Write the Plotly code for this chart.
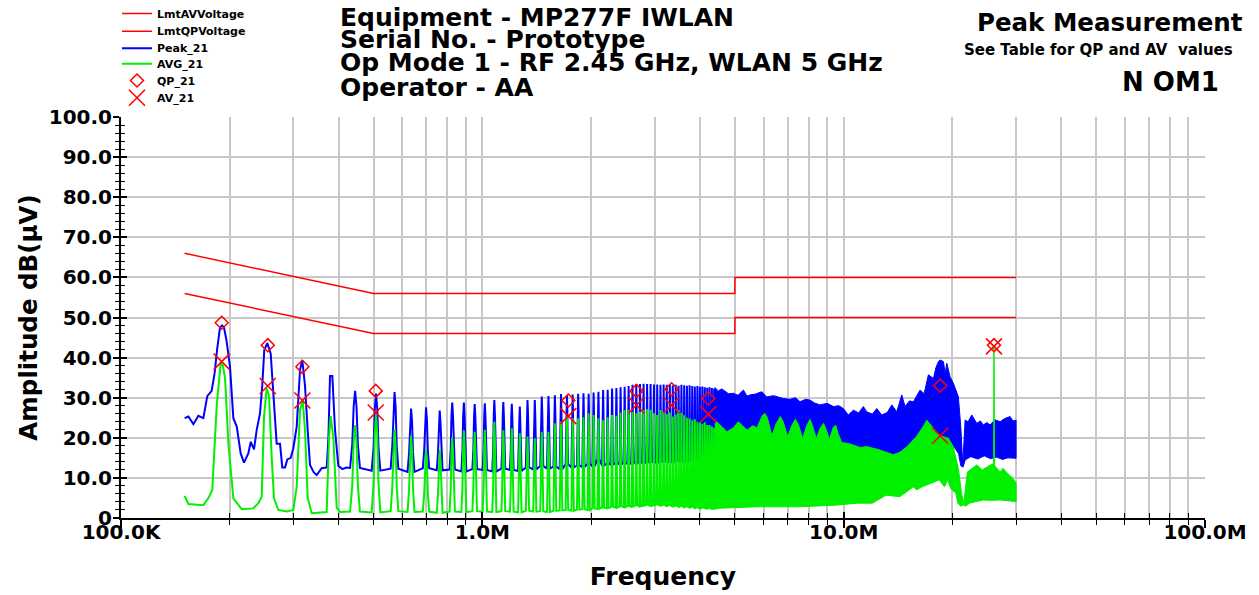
import plotly.graph_objects as go

# ---------------- DATA ----------------
# CISPR limit lines (frequency in MHz, level in dB(uV))
lmt_freq_mhz = [0.15, 0.5, 5.0, 5.0, 30.0]
lmt_qp_db = [66.0, 56.0, 56.0, 60.0, 60.0]
lmt_av_db = [56.0, 46.0, 46.0, 50.0, 50.0]

# Peak_21, low-frequency section (kHz, dB)
peak_low_khz = [150, 153.6, 158.6, 163.7, 169.0, 173.3, 178.2, 181.5, 184.5, 187.9,
                190.5, 192.8, 196.1, 200.3, 204.6, 209.1, 214.4, 219.0, 225.1, 228.6,
                233.4, 237.4, 242.5, 246.0, 249.2, 254.1, 259.6, 264.0, 266.9, 269.7,
                275.5, 279.5, 284.4, 288.6, 294.9, 299.9, 306.4, 310.0, 312.9, 317.5,
                323.0, 328.6, 333.5, 341.0, 348.0, 359.3, 370.9, 375.0, 378.8, 384.5,
                391.1, 399.5, 410.0, 420.0]
peak_low_db = [24.9, 25.3, 23.4, 25.5, 24.9, 30.4, 31.7, 36.0, 42.0, 47.5,
               48.0, 47.5, 44.0, 37.7, 24.9, 22.8, 16.1, 13.8, 16.1, 19.0,
               17.1, 21.9, 26.1, 33.0, 41.9, 43.6, 41.0, 30.0, 26.0, 18.5,
               18.5, 12.6, 12.6, 14.6, 15.0, 17.4, 22.8, 30.0, 36.9, 39.4,
               33.0, 21.9, 13.2, 11.5, 10.7, 12.4, 12.6, 20.0, 35.4, 35.4,
               22.0, 13.0, 12.2, 12.6]

# AVG_21, low-frequency section (kHz, dB)
avg_low_khz = [150, 153.6, 169.0, 174.4, 178.9, 182.0, 184.0, 188.8, 191.5, 194.1,
               198.2, 204.6, 215.8, 232.3, 239.9, 245.1, 248.8, 253.1, 256.8, 261.3,
               265.1, 272.5, 287.5, 299.9, 306.4, 312.9, 318.3, 323.0, 328.6, 337.2,
               370.9, 376.4, 380.4, 387.0, 395.4, 403.9, 420.0]
avg_low_db = [5.5, 3.5, 3.2, 4.9, 7.0, 18.0, 28.0, 38.6, 38.0, 34.8,
              18.7, 4.9, 2.2, 2.4, 3.7, 5.3, 25.3, 32.3, 30.5, 15.0,
              4.9, 2.0, 1.6, 2.0, 7.8, 26.9, 29.4, 22.0, 5.0, 1.2,
              1.5, 20.0, 25.4, 20.0, 2.5, 1.5, 1.6]

# Resolved comb harmonics (kHz)
harm_khz = [444.5, 508.0, 571.5, 635.0, 698.5, 762.0, 825.5, 889.0, 952.5, 1016.0,
            1079.5, 1143.0, 1206.5, 1270.0, 1333.5, 1397.0, 1460.5, 1524.0, 1587.5, 1651.0,
            1714.5, 1778.0, 1841.5, 1905.0, 1968.5, 2032.0, 2095.5, 2159.0, 2222.5, 2286.0,
            2349.5, 2413.0, 2476.5, 2540.0, 2603.5, 2667.0, 2730.5, 2794.0, 2857.5, 2921.0,
            2984.5, 3048.0, 3111.5, 3175.0, 3238.5, 3302.0, 3365.5, 3429.0, 3492.5, 3556.0,
            3619.5, 3683.0, 3746.5, 3810.0, 3873.5, 3937.0, 4000.5, 4064.0, 4127.5, 4191.0,
            4254.5, 4318.0, 4381.5, 4445.0]
peak_harm_top_db = [31.7, 31.0, 31.4, 27.3, 27.6, 26.8, 28.8, 28.8, 28.4, 28.6,
                    29.4, 28.9, 28.5, 27.8, 29.4, 29.4, 30.3, 30.4, 30.6, 30.9,
                    30.6, 30.8, 31.0, 31.1, 31.0, 31.3, 31.5, 31.9, 32.0, 32.3,
                    32.4, 32.6, 32.7, 32.9, 33.2, 33.4, 33.4, 33.5, 33.4, 33.4,
                    33.3, 33.3, 33.2, 33.3, 33.2, 33.3, 33.1, 33.2, 33.0, 33.2,
                    33.1, 33.0, 33.1, 32.9, 32.8, 32.9, 32.7, 32.8, 32.6, 32.5,
                    32.6, 32.4, 32.3, 32.2]
peak_harm_floor_db = [12.5, 11.8, 12.3, 11.5, 12.4, 11.9, 12.1, 11.6, 12.2, 12.0,
                      11.6, 12.3, 12.0, 11.7, 12.6, 12.1, 13.0, 12.3, 12.8, 12.2,
                      13.4, 12.6, 13.1, 12.7, 13.5, 12.9, 14.6, 13.0, 13.6, 13.2,
                      13.8, 13.3, 13.9, 13.4, 14.0, 13.5, 14.1, 13.6, 14.0, 13.8,
                      14.2, 13.7, 14.1, 13.9, 14.3, 13.8, 14.2, 14.0, 14.4, 13.9,
                      14.3, 14.0, 14.5, 14.1, 14.4, 14.2, 14.6, 14.1, 14.5, 14.3,
                      14.6, 14.2, 14.5, 14.4]
avg_harm_top_db = [23.2, 25.7, 22.2, 20.5, 17.0, 17.1, 20.1, 21.8, 21.5, 22.0,
                   24.0, 21.9, 22.4, 21.1, 20.3, 19.9, 21.5, 21.5, 23.6, 24.0,
                   25.3, 24.9, 24.9, 25.1, 26.1, 25.7, 24.9, 24.4, 25.1, 25.7,
                   25.5, 26.3, 26.9, 26.9, 26.5, 26.1, 26.5, 26.9, 27.1, 26.9,
                   26.1, 25.7, 26.9, 26.5, 25.9, 26.3, 25.3, 25.8, 26.9, 26.2,
                   25.6, 25.0, 24.8, 24.4, 24.6, 24.0, 23.8, 23.5, 23.9, 23.2,
                   23.2, 22.8, 22.5, 22.2]
avg_harm_floor_db = [1.6, 1.4, 1.7, 1.5, 1.6, 1.3, 1.6, 1.5, 1.7, 1.6,
                     1.5, 1.7, 1.6, 1.4, 1.8, 1.6, 1.7, 1.5, 1.8, 1.9,
                     2.0, 1.8, 2.1, 2.2, 2.0, 2.4, 2.3, 2.6, 2.4, 2.8,
                     2.6, 2.9, 2.7, 3.0, 2.8, 3.2, 2.9, 3.1, 3.3, 3.0,
                     3.2, 3.4, 3.1, 3.3, 3.0, 3.2, 2.9, 3.1, 2.8, 3.0,
                     2.7, 2.9, 2.6, 2.8, 2.5, 2.7, 2.4, 2.6, 2.5, 2.4,
                     2.5, 2.3, 2.4, 2.4]

# Dense (unresolved) part of the spectrum: envelopes (MHz, dB)
peak_band_top_mhz = [4.40, 4.46, 4.60, 4.80, 4.95, 5.10, 5.28, 5.40, 5.51, 5.70,
                     5.93, 6.12, 6.40, 6.81, 7.11, 7.35, 7.57, 7.85, 8.07, 8.30,
                     8.60, 9.00, 9.37, 9.70, 9.98, 10.30, 10.64, 11.00, 11.34, 11.58,
                     12.00, 12.35, 12.74, 13.20, 13.59, 14.03, 14.48, 14.79, 15.20, 15.60,
                     16.27, 16.70, 17.16, 17.72, 18.00, 18.29, 18.50, 18.88, 19.10, 19.29,
                     19.70, 20.12, 20.77, 21.09, 21.36, 21.68, 22.10, 22.62, 23.35, 23.90,
                     24.36, 24.90, 25.42, 26.20, 27.10, 27.90, 28.88, 29.40, 30.0]
peak_band_top_db = [32.6, 31.5, 32.2, 31.0, 31.1, 30.6, 31.9, 30.4, 30.7, 30.9,
                    31.5, 30.2, 30.5, 29.8, 29.6, 30.0, 29.0, 29.6, 29.4, 28.7,
                    28.2, 28.6, 27.8, 28.0, 27.3, 25.7, 26.9, 26.2, 27.8, 26.5,
                    25.9, 27.3, 25.7, 26.3, 28.2, 26.5, 30.7, 27.8, 29.2, 29.0,
                    31.9, 31.0, 35.7, 34.8, 37.5, 39.0, 39.4, 39.0, 36.0, 38.6,
                    35.2, 33.6, 30.2, 22.8, 13.2, 24.4, 24.0, 25.7, 23.6, 24.2,
                    23.2, 23.8, 23.2, 24.5, 24.0, 24.8, 25.3, 24.2, 24.4]
peak_band_bot_mhz = [4.40, 6.0, 8.0, 10.0, 12.0, 13.0, 13.7, 14.3, 14.98, 15.6,
                     16.5, 17.5, 18.5, 19.5, 20.3, 20.8, 21.1, 21.4, 21.7, 22.5,
                     23.5, 24.5, 25.5, 26.5, 27.5, 28.5, 30.0]
peak_band_bot_db = [13.5, 14.0, 14.5, 14.5, 15.5, 15.5, 15.7, 16.5, 17.8, 18.6,
                    19.0, 19.5, 18.5, 18.5, 17.5, 16.0, 13.0, 12.7, 14.5, 15.3,
                    14.7, 15.5, 14.8, 15.2, 14.6, 15.0, 14.9]

avg_band_top_mhz = [4.40, 4.45, 4.60, 4.75, 4.95, 5.11, 5.25, 5.40, 5.60, 5.76,
                    5.95, 6.05, 6.15, 6.33, 6.50, 6.68, 6.80, 7.00, 7.18, 7.35,
                    7.50, 7.70, 7.90, 8.07, 8.20, 8.40, 8.60, 8.80, 8.95, 9.13,
                    9.35, 9.50, 9.65, 9.88, 10.3, 11.1, 11.58, 12.55, 13.7, 14.3,
                    14.98, 15.9, 16.6, 16.98, 17.72, 18.5, 19.5, 20.1, 20.8, 21.2,
                    21.5, 22.0, 23.35, 24.2, 25.0, 25.95, 26.00, 26.06, 26.12, 26.17,
                    27.1, 27.6, 28.5, 29.4, 30.0]
avg_band_top_db = [23.5, 24.0, 22.8, 21.5, 22.5, 24.0, 23.0, 21.9, 23.0, 22.5,
                   25.5, 26.1, 25.0, 20.5, 23.5, 25.3, 24.0, 20.3, 23.0, 24.6,
                   23.2, 19.8, 23.0, 24.6, 23.0, 19.8, 22.3, 23.6, 22.0, 19.6,
                   22.5, 23.2, 21.0, 18.8, 18.6, 17.6, 17.8, 17.0, 15.8, 16.3,
                   17.8, 20.3, 22.8, 24.4, 22.4, 20.5, 19.9, 17.8, 12.0, 6.0,
                   3.7, 11.5, 13.2, 12.0, 12.8, 13.6, 13.6, 42.5, 13.6, 13.0,
                   11.5, 12.4, 11.0, 9.9, 8.6]
avg_band_bot_mhz = [4.40, 5.76, 7.57, 9.5, 10.9, 12.0, 13.1, 14.3, 15.6, 15.9,
                    16.5, 17.4, 18.4, 19.0, 19.4, 19.8, 20.45, 20.7, 21.1, 21.5,
                    21.7, 22.3, 23.5, 24.36, 25.5, 27.1, 28.5, 30.0]
avg_band_bot_db = [2.4, 2.8, 2.8, 3.2, 3.7, 3.7, 5.7, 5.3, 7.8, 7.0,
                   7.8, 8.6, 9.5, 7.8, 9.5, 7.3, 6.2, 3.7, 2.9, 3.3,
                   2.9, 3.7, 4.2, 4.5, 4.4, 4.5, 4.3, 4.1]

# Final measurement points (MHz, dB)
qp_freq_mhz = [0.190, 0.2548, 0.3177, 0.507, 1.73, 2.67, 3.34, 4.22, 18.5, 26.06]
qp_db = [48.7, 43.1, 37.7, 31.7, 29.3, 31.7, 32.1, 29.8, 33.0, 43.1]
av_freq_mhz = [0.190, 0.2548, 0.3177, 0.507, 1.73, 2.67, 3.34, 4.22, 18.5, 26.06]
av_db = [39.0, 32.9, 29.3, 26.3, 25.4, 28.1, 28.1, 25.9, 20.5, 42.8]

# Axis labels
x_tick_hz = [1e5, 1e6, 1e7, 1e8]
x_tick_text = ["100.0K", "1.0M", "10.0M", "100.0M"]
y_tick_vals = [0, 10, 20, 30, 40, 50, 60, 70, 80, 90, 100]
y_tick_text = ["0", "10.0", "20.0", "30.0", "40.0", "50.0", "60.0", "70.0", "80.0", "90.0", "100.0"]

# ---------------- STYLE ----------------
FONT = "DejaVu Sans"
BLUE = "#0000FF"
GREEN = "#00F000"
RED = "#FF0000"
GRID = "#C8C8C8"
# shape of a single spectral line drawn by the receiver (offset kHz, fraction of height)
LINE_SHAPE_OFF = [-14, -8, -4, 0, 4, 8, 14]
LINE_SHAPE_FRAC = [0.0, 0.3, 0.8, 1.0, 0.8, 0.3, 0.0]

W, H = 1259, 595
ML, MR, MT, MB = 121, 54, 117, 77
PW, PH = W - ML - MR, H - MT - MB


def px_x(px):
    return (px - ML) / PW


def px_y(py):
    return (H - MB - py) / PH


def comb(low_khz, low_db, tops, floors):
    xs = [f * 1e3 for f in low_khz]
    ys = list(low_db)
    for f, top, fl in zip(harm_khz, tops, floors):
        for off, frac in zip(LINE_SHAPE_OFF, LINE_SHAPE_FRAC):
            xs.append((f + off) * 1e3)
            ys.append(fl + frac * (top - fl))
    return xs, ys


def band(top_f, top_v, bot_f, bot_v):
    xs = [f * 1e6 for f in top_f] + [f * 1e6 for f in reversed(bot_f)]
    ys = list(top_v) + list(reversed(bot_v))
    return xs, ys


fig = go.Figure()

px_, py_ = comb(peak_low_khz, peak_low_db, peak_harm_top_db, peak_harm_floor_db)
fig.add_trace(go.Scatter(x=px_, y=py_, mode="lines", name="Peak_21", legend="legend3",
                         legendgroup="peak", line=dict(color=BLUE, width=2)))
bx, by = band(peak_band_top_mhz, peak_band_top_db, peak_band_bot_mhz, peak_band_bot_db)
fig.add_trace(go.Scatter(x=bx, y=by, mode="lines", fill="toself", fillcolor=BLUE,
                         line=dict(color=BLUE, width=1), legendgroup="peak",
                         legend="legend3", showlegend=False, hoverinfo="skip"))

ax_, ay_ = comb(avg_low_khz, avg_low_db, avg_harm_top_db, avg_harm_floor_db)
fig.add_trace(go.Scatter(x=ax_, y=ay_, mode="lines", name="AVG_21", legend="legend4",
                         legendgroup="avg", line=dict(color=GREEN, width=2)))
gx, gy = band(avg_band_top_mhz, avg_band_top_db, avg_band_bot_mhz, avg_band_bot_db)
fig.add_trace(go.Scatter(x=gx, y=gy, mode="lines", fill="toself", fillcolor=GREEN,
                         line=dict(color=GREEN, width=1), legendgroup="avg",
                         legend="legend4", showlegend=False, hoverinfo="skip"))

lf = [f * 1e6 for f in lmt_freq_mhz]
fig.add_trace(go.Scatter(x=lf, y=lmt_av_db, mode="lines", name="LmtAVVoltage",
                         legend="legend", line=dict(color=RED, width=1.5)))
fig.add_trace(go.Scatter(x=lf, y=lmt_qp_db, mode="lines", name="LmtQPVoltage",
                         legend="legend2", line=dict(color=RED, width=1.5)))

fig.add_trace(go.Scatter(x=[f * 1e6 for f in qp_freq_mhz], y=qp_db, mode="markers",
                         name="QP_21", legend="legend5",
                         marker=dict(symbol="diamond-open", size=10, color=RED,
                                     line=dict(color=RED, width=1.5))))
fig.add_trace(go.Scatter(x=[f * 1e6 for f in av_freq_mhz], y=av_db, mode="markers",
                         name="AV_21", legend="legend6",
                         marker=dict(symbol="x-thin-open", size=16, color=RED,
                                     line=dict(color=RED, width=1.5))))

# empty trace so the overlay axes (inner tick marks + labels) exist
fig.add_trace(go.Scatter(x=[], y=[], xaxis="x2", yaxis="y2", showlegend=False,
                         hoverinfo="skip"))

minor_x = [k * 10 ** e for e in (5, 6, 7) for k in range(2, 10)]
tickfont = dict(family=FONT, size=20, color="black", weight="bold")

# one small legend per entry so the rows sit exactly where the reference has them
legend_row_y = [13, 30.7, 47.7, 63.3, 80, 97.3]
legend_names = ["legend", "legend2", "legend3", "legend4", "legend5", "legend6"]
legend_layout = {}
for name, ry in zip(legend_names, legend_row_y):
    legend_layout[name] = dict(x=px_x(117), y=px_y(ry - 14), xanchor="left", yanchor="top",
                               bgcolor="rgba(0,0,0,0)", borderwidth=0, tracegroupgap=0,
                               font=dict(family=FONT, size=11, color="black", weight="bold"))

fig.update_layout(
    width=W, height=H,
    margin=dict(l=ML, r=MR, t=MT, b=MB, autoexpand=False),
    paper_bgcolor="white", plot_bgcolor="white",
    font=dict(family=FONT, color="black", weight="bold"),
    showlegend=True,
    **legend_layout,
    xaxis=dict(type="log", range=[5, 8], tickmode="array", tickvals=x_tick_hz,
               showticklabels=False, ticks="outside", ticklen=8,
               tickwidth=1.5, tickcolor="black", showline=True, linecolor="black",
               linewidth=1.5, showgrid=True, gridcolor=GRID, gridwidth=1.5,
               zeroline=False, automargin=False,
               minor=dict(tickmode="array", tickvals=minor_x, ticks="outside",
                          ticklen=5, tickwidth=1, tickcolor="black", showgrid=True,
                          gridcolor=GRID, gridwidth=1.5)),
    yaxis=dict(range=[0, 100], tickmode="array", tickvals=y_tick_vals,
               showticklabels=False, ticks="outside", ticklen=6,
               tickwidth=1.5, tickcolor="black", showline=True, linecolor="black",
               linewidth=1.5, showgrid=True, gridcolor=GRID, gridwidth=1.5,
               zeroline=False, automargin=False,
               minor=dict(dtick=2, ticks="outside", ticklen=4, tickwidth=1,
                          tickcolor="black", showgrid=False)),
    xaxis2=dict(type="log", range=[5, 8], overlaying="x", anchor="y2", side="bottom",
                tickmode="array", tickvals=x_tick_hz, ticktext=x_tick_text,
                tickfont=tickfont, ticks="inside", ticklen=6,
                tickwidth=1.5, tickcolor="black", showticklabels=True,
                showgrid=False, showline=False, zeroline=False, automargin=False,
                minor=dict(tickmode="array", tickvals=minor_x, ticks="inside",
                           ticklen=5, tickwidth=1, tickcolor="black", showgrid=False),
                title=dict(text="Frequency", standoff=24,
                           font=dict(family=FONT, size=25, color="black", weight="bold"))),
    yaxis2=dict(range=[0, 100], overlaying="y", anchor="x2", side="left",
                tickmode="array", tickvals=y_tick_vals, ticktext=y_tick_text,
                tickfont=tickfont, ticks="inside", ticklen=6, ticklabelstandoff=8,
                tickwidth=1.5, tickcolor="black", showticklabels=True,
                showgrid=False, showline=False, zeroline=False, automargin=False,
                minor=dict(dtick=2, ticks="inside", ticklen=4, tickwidth=1,
                           tickcolor="black", showgrid=False),
                title=dict(text="Amplitude dB(µV)", standoff=4,
                           font=dict(family=FONT, size=24.5, color="black", weight="bold"))),
)

title_lines = ["Equipment - MP277F IWLAN", "Serial No. - Prototype",
               "Op Mode 1 - RF 2.45 GHz, WLAN 5 GHz", "Operator - AA"]
title_y = [17, 39.5, 62.5, 87]
for txt, ty in zip(title_lines, title_y):
    fig.add_annotation(text=txt, xref="paper", yref="paper", x=px_x(338), y=px_y(ty),
                       xanchor="left", yanchor="middle", showarrow=False,
                       font=dict(family=FONT, size=25, color="black", weight="bold"))

right_texts = [("Peak Measurement", 24.5, 1245, 22),
               ("See Table for QP and AV  values", 15, 1235, 49.5),
               ("N OM1", 26, 1221, 82)]
for txt, sz, rx, ry in right_texts:
    fig.add_annotation(text=txt, xref="paper", yref="paper", x=px_x(rx), y=px_y(ry),
                       xanchor="right", yanchor="middle", showarrow=False,
                       font=dict(family=FONT, size=sz, color="black", weight="bold"))

fig.write_html("out.html", config={"displayModeBar": False},
               post_script="document.body.style.margin='0';")
